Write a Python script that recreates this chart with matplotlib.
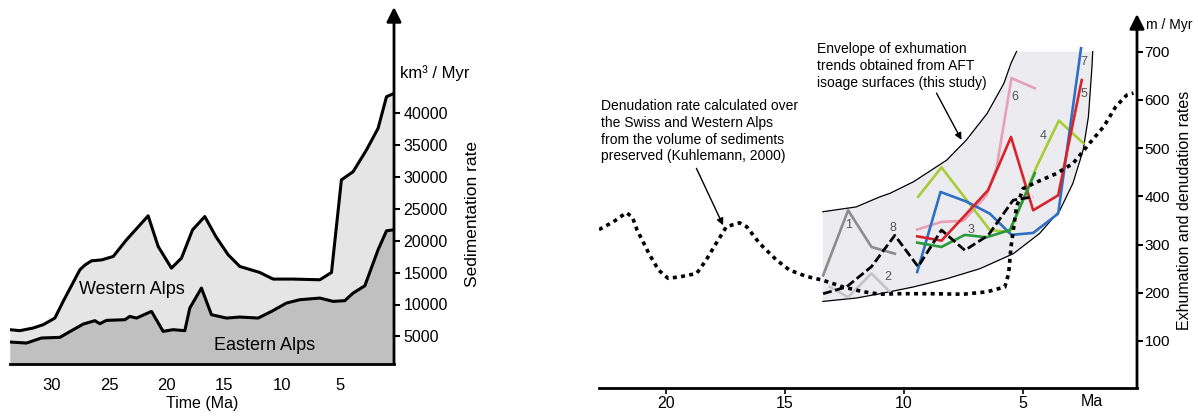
import matplotlib.pyplot as plt
import numpy as np

plt.rcParams['font.family'] = ['Liberation Sans', 'DejaVu Sans']

# ---- left panel: sedimentation rate (km3/Myr) ----
total_ma = [33.61, 32.75, 31.59, 30.72, 29.71, 28.99, 27.54, 27.1, 26.53, 25.66, 24.65, 23.50,
            21.62, 20.75, 19.60, 18.73, 17.77, 16.71, 15.75, 14.68, 13.67, 11.94, 10.78,
            9.05, 6.73, 5.72, 4.86, 3.84, 2.69, 1.68, 0.95, 0.29]
total_rate = [6050, 5890, 6310, 6830, 7870, 10490, 15450, 16200, 16860, 17000, 17540, 20150,
              23920, 19110, 15710, 17280, 21720, 23810, 20670, 17800, 15970, 15030, 13990,
              13990, 13880, 15030, 29560, 30860, 34260, 37650, 42620, 43140]

east_ma = [33.61, 32.17, 30.87, 29.28, 28.12, 27.25, 26.24, 25.81, 25.23, 23.64, 23.21, 22.63,
           21.33, 20.32, 19.45, 18.44, 18.01, 17.0, 16.13, 14.83, 13.67, 12.08, 10.92, 9.62,
           8.47, 6.73, 5.58, 4.57, 3.84, 2.83, 1.68, 0.95, 0.29]
east_rate = [4110, 3950, 4740, 4840, 6040, 6930, 7460, 6990, 7510, 7610, 8130, 7870,
             8920, 5780, 6050, 5890, 9440, 12580, 8400, 7870, 8030, 7870, 8920, 10230,
             10750, 11010, 10490, 10600, 11800, 12940, 18590, 21570, 21730]

sed_ticks = [5000, 10000, 15000, 20000, 25000, 30000, 35000, 40000]
time_ticks = [30, 25, 20, 15, 10, 5]

# ---- right panel: exhumation / denudation rates (m/Myr) ----
denud_ma = [22.8, 22.2, 21.65, 21.4, 21.2, 20.7, 20.3, 19.9, 19.4, 18.7, 18.3, 17.8, 17.45,
            16.9, 16.6, 16.05, 15.35, 14.8, 14.1, 13.4, 12.55, 11.7, 11.0, 10.2, 8.9, 7.5,
            6.5, 5.76, 5.6, 5.5, 5.27, 4.99, 4.4, 3.6, 2.9, 2.2, 1.6, 1.1, 0.64, 0.36]
denud_rate = [331, 347, 366, 357, 330, 281, 247, 230, 233, 240, 268, 309, 337,
              345, 337, 302, 268, 247, 234, 226, 212, 202, 197, 198, 198, 197,
              202, 212, 240, 295, 378, 416, 430, 447, 468, 510, 545, 586, 610, 614]

env_up_ma = [13.4, 12.0, 11.0, 10.59, 9.6, 8.2, 7.37, 6.5, 5.8, 5.5, 5.27]
env_up_val = [368, 378, 399, 406, 430, 475, 517, 572, 634, 676, 700]
env_lo_ma = [13.4, 12.0, 11.0, 9.6, 8.2, 6.8, 5.4, 4.3, 3.45, 2.9, 2.47, 2.25, 2.1, 2.07]
env_lo_val = [182, 189, 198, 212, 229, 250, 281, 323, 371, 427, 496, 565, 669, 700]

tr1_ma = [13.39, 12.34, 11.36, 10.38]
tr1_val = [236, 371, 295, 281]
tr2_ma = [13.1, 12.34, 11.36, 10.59]
tr2_val = [212, 191, 240, 202]
tr3_ma = [9.44, 8.42, 7.44, 6.53, 5.55, 4.5]
tr3_val = [304, 295, 320, 315, 330, 448]
tr4_ma = [9.4, 8.42, 6.39, 5.55, 4.43, 3.49, 2.46]
tr4_val = [399, 460, 330, 326, 461, 557, 510]
tr5_ma = [9.44, 8.42, 7.5, 6.46, 5.5, 4.57, 3.52, 2.53]
tr5_val = [317, 308, 357, 413, 523, 371, 402, 641]
tr6_ma = [9.44, 8.42, 7.5, 6.53, 6.1, 5.48, 4.5]
tr6_val = [331, 347, 349, 402, 461, 645, 624]
tr7_ma = [9.44, 8.46, 7.37, 6.39, 5.48, 4.57, 3.52, 2.56]
tr7_val = [243, 409, 389, 364, 320, 324, 364, 707]
tr8_ma = [13.39, 12.41, 11.36, 10.38, 9.4, 8.42, 7.44, 6.46, 5.41, 4.57]
tr8_val = [198, 212, 254, 319, 254, 330, 288, 319, 392, 399]

exh_ticks = [100, 200, 300, 400, 500, 600, 700]
ma_ticks = [20, 15, 10, 5]

W, H = 1198, 418
fig = plt.figure(figsize=(W / 100, H / 100), dpi=100)

# left axes
axL = fig.add_axes([10 / W, 1 - 364 / H, 384 / W, 357 / H])
axL.fill_between(total_ma, total_rate, 0, color='#e5e5e5', lw=0)
axL.fill_between(east_ma, east_rate, 0, color='#c0c0c0', lw=0)
axL.plot(total_ma, total_rate, color='black', lw=2.2, solid_joinstyle='round')
axL.plot(east_ma, east_rate, color='black', lw=2.2, solid_joinstyle='round')
axL.set_xlim(33.6, 0.3)
axL.set_ylim(660, 56700)
for s in ['left', 'top', 'right']:
    axL.spines[s].set_visible(False)
axL.spines['bottom'].set_linewidth(2)
axL.annotate('', xy=(1, 1), xytext=(1, 0), xycoords='axes fraction',
             arrowprops=dict(arrowstyle='-|>', lw=2, color='black', mutation_scale=22,
                             shrinkA=0, shrinkB=0))
axL.yaxis.tick_right()
axL.set_yticks(sed_ticks)
axL.set_xticks(time_ticks)
axL.tick_params(axis='y', length=4, width=1.5, pad=3, labelsize=11.5)
axL.tick_params(axis='x', length=0, pad=10, labelsize=12)
axL.set_xlabel('Time (Ma)', fontsize=11.5, labelpad=2)
axL.text(1.015, 46300, 'km³ / Myr', transform=axL.get_yaxis_transform(),
         fontsize=12, va='center', ha='left')
axL.text(1.205, 24200, 'Sedimentation rate', transform=axL.get_yaxis_transform(),
         fontsize=12.5, rotation=90, va='center', ha='center')
axL.text(23.0, 12300, 'Western Alps', fontsize=13, ha='center', va='center')
axL.text(11.5, 3600, 'Eastern Alps', fontsize=13, ha='center', va='center')

# right axes
axR = fig.add_axes([599 / W, 1 - 388 / H, 538 / W, 374 / H])
env_x = env_up_ma + env_lo_ma[::-1]
env_y = env_up_val + env_lo_val[::-1]
axR.fill(env_x, env_y, color='#ececf0', lw=0)
axR.plot(env_up_ma, env_up_val, color='black', lw=0.9)
axR.plot(env_lo_ma, env_lo_val, color='black', lw=0.9)

axR.plot(tr1_ma, tr1_val, color='#8c8c8c', lw=1.9)
axR.plot(tr2_ma, tr2_val, color='#c4c4c4', lw=1.9)
axR.plot(tr6_ma, tr6_val, color='#e8a0b6', lw=1.9)
axR.plot(tr4_ma, tr4_val, color='#a9cc35', lw=1.9)
axR.plot(tr7_ma, tr7_val, color='#2f6fc4', lw=1.9)
axR.plot(tr5_ma, tr5_val, color='#d8232a', lw=1.9)
axR.plot(tr3_ma, tr3_val, color='#2a9a3c', lw=1.9)
axR.plot(tr8_ma, tr8_val, color='black', lw=2.0, dashes=(3.2, 1.3))
axR.plot(denud_ma, denud_rate, color='black', lw=2.6, dashes=(1.1, 1.2))

lab_col = '#555555'
for x, y, t in [(12.34, 340, '1'), (10.67, 233, '2'), (7.16, 330, '3'), (4.15, 524, '4'),
                (2.44, 612, '5'), (5.34, 605, '6'), (2.44, 679, '7'), (10.46, 334, '8')]:
    axR.text(x, y, t, color=lab_col, fontsize=9, ha='center', va='center')

axR.text(13.66, 670, 'Envelope of exhumation\ntrends obtained from AFT\nisoage surfaces (this study)',
         fontsize=10, ha='left', va='center', linespacing=1.25)
axR.annotate('', xy=(7.58, 517), xytext=(8.63, 614),
             arrowprops=dict(arrowstyle='-|>', lw=1, color='black', mutation_scale=10,
                             shrinkA=0, shrinkB=0))
axR.text(22.7, 535, 'Denudation rate calculated over\nthe Swiss and Western Alps\n'
         'from the volume of sediments\npreserved (Kuhlemann, 2000)',
         fontsize=10, ha='left', va='center', linespacing=1.25)
axR.annotate('', xy=(17.59, 340), xytext=(18.71, 458),
             arrowprops=dict(arrowstyle='-|>', lw=1, color='black', mutation_scale=10,
                             shrinkA=0, shrinkB=0))

axR.set_xlim(22.8, 0.21)
axR.set_ylim(2.5, 778)
for s in ['left', 'top', 'right']:
    axR.spines[s].set_visible(False)
axR.spines['bottom'].set_linewidth(2)
axR.annotate('', xy=(1, 1), xytext=(1, 0), xycoords='axes fraction',
             arrowprops=dict(arrowstyle='-|>', lw=2, color='black', mutation_scale=22,
                             shrinkA=0, shrinkB=0))
axR.yaxis.tick_right()
axR.set_yticks(exh_ticks)
axR.set_xticks(ma_ticks)
axR.tick_params(axis='y', length=4, width=1.5, pad=1.5, labelsize=11)
axR.tick_params(axis='x', length=4, width=1.2, pad=2, labelsize=11.5)
axR.text(2.1, -0.035, 'Ma', transform=axR.get_xaxis_transform(), fontsize=11.5,
         ha='center', va='center')
axR.text(1.016, 755, 'm / Myr', transform=axR.get_yaxis_transform(),
         fontsize=10, ha='left', va='center')
axR.text(1.089, 371, 'Exhumation and denudation rates', transform=axR.get_yaxis_transform(),
         fontsize=11.5, rotation=90, ha='center', va='center')

fig.savefig('out.png', dpi=100)
